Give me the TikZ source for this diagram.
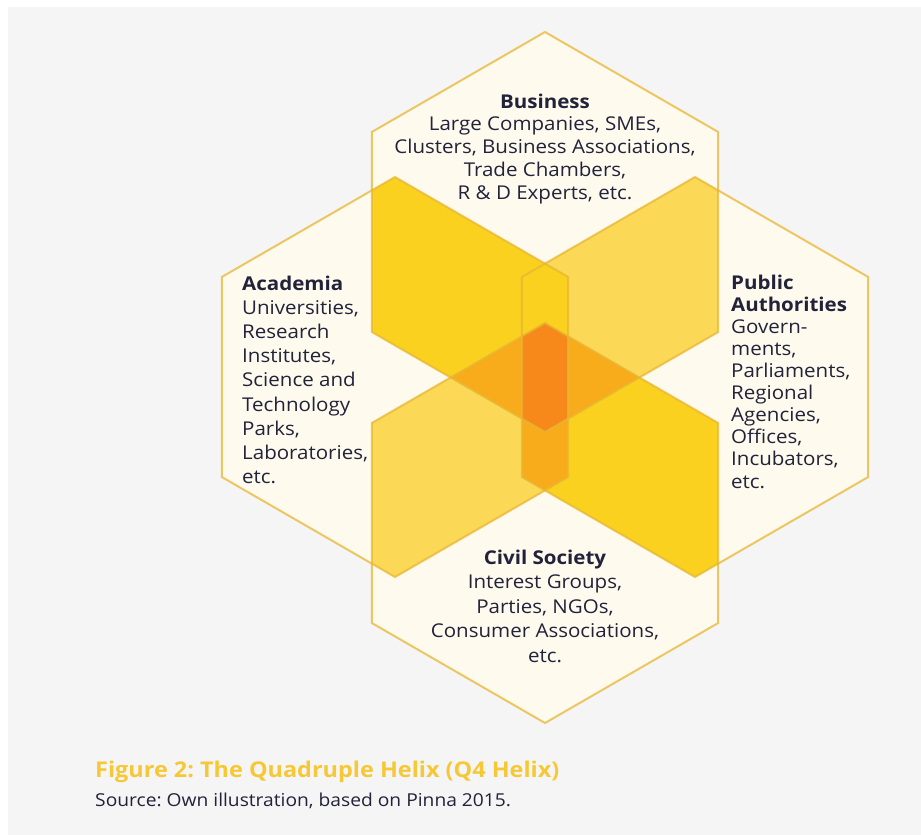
\documentclass[tikz,border=0pt]{standalone}
\usepackage{fontspec}
\setmainfont{Open Sans}[FakeStretch=1.08]
\definecolor{panel}{HTML}{F5F5F5}
\definecolor{cream}{HTML}{FEFBEE}
\definecolor{gold}{HTML}{E8B634}
\definecolor{ybright}{HTML}{F9D11E}
\definecolor{ylight}{HTML}{FBD855}
\definecolor{orangeA}{HTML}{F8AC1C}
\definecolor{orangeB}{HTML}{F6891A}
\definecolor{txt}{HTML}{22223A}
\definecolor{captionc}{HTML}{F7C836}
\newcommand\hexsave[3]{\path[save path=#1] (#2,#3-200) -- (#2+173.2,#3-100) -- (#2+173.2,#3+100) -- (#2,#3+200) -- (#2-173.2,#3+100) -- (#2-173.2,#3-100) -- cycle;}
\tikzset{
  body/.style={font=\fontsize{19}{#1}\selectfont, text=txt, inner sep=0pt},
  hexline/.style={draw=gold, line width=2pt, line join=miter, draw opacity=0.75}
}
\frenchspacing
\begin{document}
\begin{tikzpicture}[x=1pt,y=-1pt]
\useasboundingbox (0,0) rectangle (921,835);
\fill[white] (0,0) rectangle (921,835);
\fill[panel] (8,7) rectangle (921,835);
\hexsave{\pB}{545}{232}
\hexsave{\pA}{395}{377}
\hexsave{\pP}{695}{377}
\hexsave{\pC}{545}{523}
% base fills
\path[fill=cream, use path=\pB];
\path[fill=cream, use path=\pA];
\path[fill=cream, use path=\pP];
\path[fill=cream, use path=\pC];
% pairwise overlaps with Business
\begin{scope}
  \path[use path=\pB, clip];
  \path[fill=ybright, use path=\pA];
  \path[fill=ylight, use path=\pP];
\end{scope}
% pairwise overlaps with Civil Society
\begin{scope}
  \path[use path=\pC, clip];
  \path[fill=ylight, use path=\pA];
  \path[fill=ybright, use path=\pP];
\end{scope}
% Academia & Public strip
\begin{scope}
  \path[use path=\pA, clip];
  \path[use path=\pP, clip];
  \path[fill=ybright, use path=\pB];
  \path[fill=orangeA, use path=\pC];
\end{scope}
% Business & Civil diamond
\begin{scope}
  \path[use path=\pB, clip];
  \path[use path=\pC, clip];
  \fill[orangeA] (300,250) rectangle (800,500);
  \path[use path=\pA, clip];
  \path[fill=orangeB, use path=\pP];
\end{scope}
% outlines
\path[hexline, use path=\pA];
\path[hexline, use path=\pP];
\path[hexline, use path=\pC];
\path[hexline, use path=\pB];
% texts
\node[body=22.75pt, align=center, anchor=north] (bus) at (545,93.5)
  {\textbf{Business}\\Large Companies, SMEs,\\Clusters, Business Associations,\\Trade Chambers,\\R \& D Experts, etc.};
\node[body=24.2pt, align=left, anchor=north west] (aca) at (242,275.5)
  {\textbf{Academia}\\Universities,\\Research\\Institutes,\\Science and\\Technology\\Parks,\\Laboratories,\\etc.};
\node[body=22.1pt, align=left, anchor=north west] (pub) at (731,274.5)
  {\textbf{Public}\\\textbf{Authorities}\\Govern-\\ments,\\Parliaments,\\Regional\\Agencies,\\Offices,\\Incubators,\\etc.};
\node[body=24.5pt, align=center, anchor=north] (civ) at (545,549.5)
  {\textbf{Civil Society}\\Interest Groups,\\Parties, NGOs,\\Consumer Associations,\\etc.};
\node[font=\fontsize{21.7}{26}\selectfont\bfseries, text=captionc, anchor=base west, inner sep=0pt] (fig) at (95,777)
  {Figure 2: The Quadruple Helix (Q4 Helix)};
\node[font=\fontsize{17.8}{20}\selectfont, text=txt, anchor=base west, inner sep=0pt] (src) at (95,806)
  {Source: Own illustration, based on Pinna 2015.};
\end{tikzpicture}
\end{document}
